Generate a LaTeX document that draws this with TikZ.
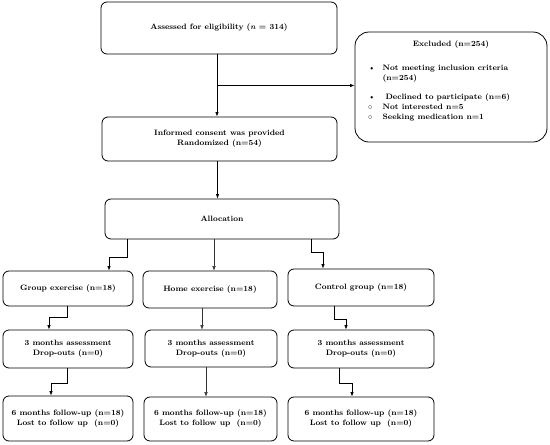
\documentclass[tikz,border=0pt]{standalone}
\usetikzlibrary{arrows.meta,calc}
\begin{document}
\begin{tikzpicture}[x=1pt,y=-1pt,>={Latex[length=4.5pt,width=3.5pt]}]
        \tikzstyle{box} = [draw,thick,rounded corners=6pt,align=center,inner sep=1pt,
                           font=\fontsize{7.8}{10}\selectfont\bfseries]
        \tikzstyle{link} = [->,thick]
        \tikzstyle{thin link} = [->,thin,black!80]

        \useasboundingbox (0,0) rectangle (550,445);

        \node[box,minimum width=236pt,minimum height=52pt] (assess) at (219,28) {Assessed for eligibility (\textit{n} = 314)};
        \node[box,rounded corners=14pt,minimum width=192pt,minimum height=110pt] (excl) at (451,87) {};
        \node[font=\fontsize{7.8}{10}\selectfont\bfseries] (exclT) at (451,45) {Excluded (n=254)};
        \node[anchor=north west,inner sep=0pt,font=\fontsize{7.8}{10}\selectfont\bfseries] (exclL) at (368,63) {%
            \begin{tabular}{@{}l@{\hspace{7pt}}l@{}}
            \textbullet & Not meeting inclusion criteria\\
                        & (n=254)\\[9pt]
            \textbullet & \hspace{3pt}Declined to participate (n=6)\\
            $\circ$     & Not interested n=5\\
            $\circ$     & Seeking medication n=1
            \end{tabular}};
        \node[box,minimum width=235pt,minimum height=44pt] (consent) at (219.5,139) {Informed consent was provided\\Randomized (n=54)};
        \node[box,minimum width=234pt,minimum height=40pt] (alloc) at (222,219) {Allocation};

        \node[box,minimum width=130pt,minimum height=35pt] (grp) at (68,288.5) {Group exercise (n=18)};
        \node[box,minimum width=134pt,minimum height=37pt] (home) at (210,289.5) {Home exercise (n=18)};
        \node[box,minimum width=146pt,minimum height=37pt] (ctrl) at (361,287.5) {Control group (n=18)};

        \node[box,minimum width=130pt,minimum height=38pt] (grpA) at (68,349) {3 months assessment\\Drop-outs (n=0)};
        \node[box,minimum width=132pt,minimum height=37pt] (homeA) at (211,348.5) {3 months assessment\\Drop-outs (n=0)};
        \node[box,minimum width=146pt,minimum height=38pt] (ctrlA) at (361,349) {3 months assessment\\Drop-outs (n=0)};

        \node[box,minimum width=130pt,minimum height=45pt] (grpF) at (68,418.5) {6 months follow-up (n=18)\\Lost to follow up~~(n=0)};
        \node[box,minimum width=133pt,minimum height=44pt] (homeF) at (210.5,419) {6 months follow-up (n=18)\\Lost to follow up~~(n=0)};
        \node[box,minimum width=146pt,minimum height=44pt] (ctrlF) at (361,419) {6 months follow-up (n=18)\\Lost to follow up~~(n=0)};

        \coordinate (split) at ($([xshift=-2pt]assess.south)!0.5!([xshift=-2pt]assess.south |- consent.north)$);
        \draw[link] ([xshift=-2pt]assess.south) -- ([xshift=-2pt]assess.south |- consent.north);
        \draw[link] (split) -- (split -| excl.west);
        \draw[link] ([xshift=-2pt]consent.south) -- ([xshift=-2pt]consent.south |- alloc.north);

        % allocation to the three arms
        \draw[link] ([xshift=-95pt]alloc.south) -- ++(0,18) -| ([xshift=41pt]grp.north);
        \draw[thin link] ([xshift=-8pt]alloc.south) -- ([xshift=-8pt]alloc.south |- home.north);
        \draw[link] ([xshift=89pt]alloc.south) -- ++(0,13) -| ([xshift=-38pt]ctrl.north);

        \draw[link] ([xshift=-1pt]grp.south) -- ++(0,11) -| ([xshift=-19pt]grpA.north);
        \draw[thin link] ([xshift=-8pt]home.south) -- ([xshift=-8pt]home.south |- homeA.north);
        \draw[link] ([xshift=-27pt]ctrl.south) -- ++(0,13) -| ([xshift=-15pt]ctrlA.north);

        \draw[link] ([xshift=-1pt]grpA.south) -- ++(0,15) -| ([xshift=-17pt]grpF.north);
        \draw[thin link] ([xshift=-5pt]homeA.south) -- ([xshift=-5pt]homeA.south |- homeF.north);
        \draw[link] ([xshift=-22pt]ctrlA.south) -- ++(0,15) -| ([xshift=-9pt]ctrlF.north);

    \end{tikzpicture}
\end{document}
